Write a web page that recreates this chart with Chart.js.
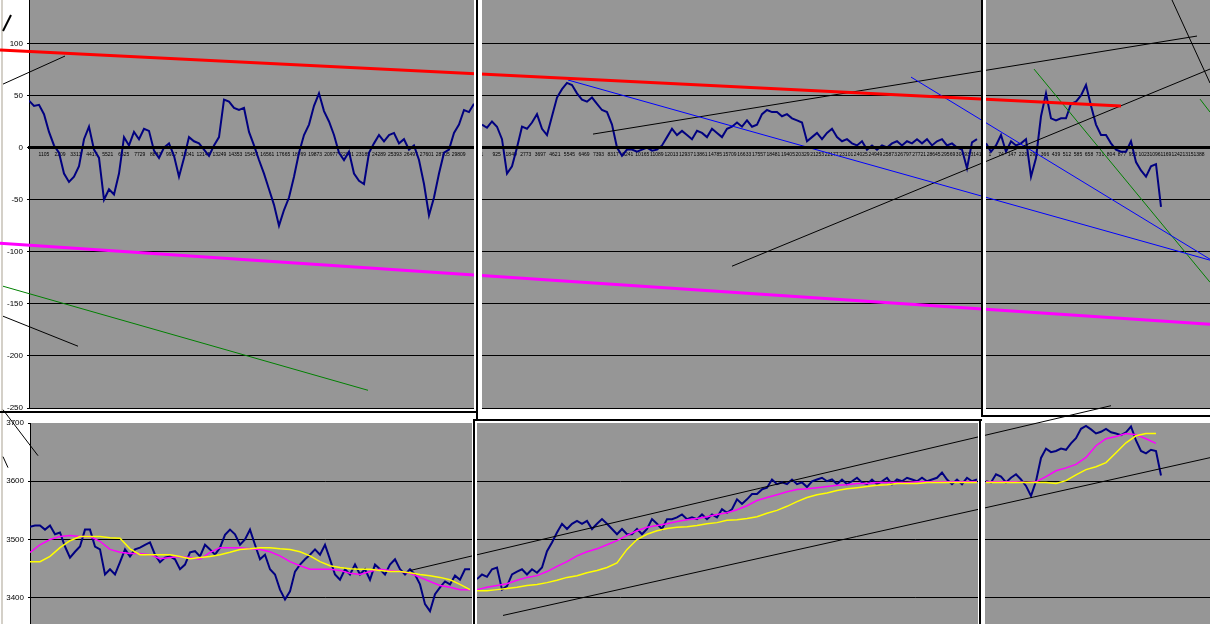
<!DOCTYPE html>
<html lang="en">
<head>
<meta charset="UTF-8">
<title>Oscillator and price windows</title>
<script src="https://cdn.jsdelivr.net/npm/chart.js"></script>
<style>
  body { margin: 0; background: #fff; width: 1210px; height: 624px; overflow: hidden; position: relative; }
  .gray { position: absolute; background: #969696; }
  .white { position: absolute; background: #fff; }
  .ink { position: absolute; background: #000; }
  canvas { position: absolute; left: 0; }
</style>
</head>
<body>
<div class="white" style="left:1px;top:0;width:2px;height:624px;background:#d4d0c8"></div>

<div class="gray" style="left:29px;top:0;width:445px;height:408px"></div>
<div class="gray" style="left:482px;top:0;width:499px;height:409px"></div>
<div class="gray" style="left:986px;top:0;width:224px;height:409px"></div>
<div class="gray" style="left:30px;top:423px;width:442px;height:201px"></div>
<div class="gray" style="left:477px;top:423px;width:501px;height:201px"></div>
<div class="gray" style="left:985px;top:423px;width:225px;height:201px"></div>

<canvas id="topChart" width="1210" height="412" style="top:0"></canvas>
<canvas id="bottomChart" width="1210" height="224" style="top:400px"></canvas>

<div class="white" style="left:474px;top:0;width:8px;height:419px"></div>
<div class="white" style="left:981px;top:0;width:5px;height:416px"></div>
<div class="white" style="left:472px;top:419px;width:5px;height:205px"></div>
<div class="white" style="left:978px;top:419px;width:7px;height:205px"></div>

<div class="ink" style="left:0;top:411px;width:478px;height:2px"></div>
<div class="ink" style="left:476px;top:0;width:2px;height:420px"></div>
<div class="ink" style="left:473px;top:419px;width:509px;height:2px"></div>
<div class="ink" style="left:473px;top:419px;width:2px;height:205px"></div>
<div class="ink" style="left:981px;top:0;width:2px;height:417px"></div>
<div class="ink" style="left:981px;top:415px;width:229px;height:2px"></div>
<div class="ink" style="left:979px;top:419px;width:2px;height:205px"></div>

<script>
// ---- oscillator (top row), one array per window, sampled every 5 steps
const topLeftOsc = [45,40,41,32,15,2,-5,-25,-33,-28,
  -18,8,20,-2,-10,-50,-40,-45,-25,10,
  2,15,8,18,16,-3,-10,0,4,-8,
  -28,-10,10,6,4,-2,-8,2,10,46,
  44,38,36,38,15,2,-12,-25,-40,-55,
  -75,-60,-48,-28,-5,12,22,40,52,35,
  25,12,-5,-12,-4,-25,-32,-35,-5,4,
  12,6,12,14,4,8,-2,2,-12,-35,
  -65,-48,-25,-5,-2,14,22,36,34,42];
const topMidOsc = [22,19,25,20,8,-25,-18,0,20,18,
  24,32,18,12,30,48,56,62,60,52,
  46,44,48,42,36,34,22,0,-8,-2,
  -2,-4,-2,0,-3,-2,2,10,18,12,
  16,12,8,16,14,10,18,14,10,18,
  20,24,20,26,20,22,32,36,34,34,
  30,32,28,26,24,6,10,14,8,14,
  18,10,6,8,4,2,6,-2,2,-2,
  2,0,4,6,2,6,4,8,4,8,
  2,6,8,2,4,0,-2,-20,5,8];
const topRightOsc = [4,-4,2,12,-4,6,2,4,8,-28,
  -10,30,52,28,26,28,28,42,44,50,
  60,40,22,12,12,4,-2,-4,-4,6,
  -14,-22,-28,-18,-16,-57];

// ---- price (bottom row)
const botLeftPrice = [3522,3524,3524,3517,3524,3509,3512,3488,3469,3479,
  3488,3517,3517,3488,3483,3440,3449,3440,3461,3483,
  3471,3483,3486,3491,3495,3474,3461,3469,3471,3466,
  3449,3457,3478,3480,3471,3491,3483,3474,3486,3508,
  3517,3509,3491,3500,3517,3491,3466,3474,3449,3440,
  3414,3397,3411,3445,3457,3466,3474,3483,3474,3491,
  3466,3440,3431,3449,3440,3457,3440,3449,3431,3457,
  3449,3440,3457,3466,3449,3440,3449,3440,3423,3389,
  3377,3406,3418,3428,3423,3438,3431,3449,3449];
const botMidPrice = [3432,3440,3436,3449,3452,3414,3420,3440,3445,3449,
  3440,3449,3443,3452,3480,3495,3512,3527,3518,3527,
  3532,3527,3532,3518,3527,3535,3527,3518,3509,3518,
  3509,3509,3518,3509,3518,3535,3527,3518,3535,3535,
  3538,3543,3535,3538,3535,3543,3535,3543,3538,3552,
  3546,3552,3569,3561,3569,3578,3578,3586,3589,3603,
  3595,3598,3595,3603,3595,3598,3590,3600,3603,3606,
  3600,3603,3595,3603,3595,3600,3606,3598,3595,3603,
  3595,3600,3606,3595,3603,3600,3606,3603,3600,3606,
  3600,3603,3606,3615,3603,3595,3603,3595,3606,3600,3603];
const botRightPrice = [3600,3598,3612,3608,3598,3606,3612,3603,3592,3575,
  3600,3640,3656,3650,3652,3656,3654,3665,3674,3690,
  3695,3689,3682,3685,3690,3684,3682,3679,3684,3694,
  3670,3652,3648,3654,3652,3610];

// ---- moving averages, sampled every 10 steps
const botLeftMagenta = [3478,3491,3500,3505,3507,3505,3505,3497,3483,3478,
  3476,3476,3474,3467,3469,3471,3469,3466,3478,3486,
  3486,3486,3484,3483,3479,3472,3462,3455,3449,3449,
  3449,3447,3442,3440,3445,3449,3447,3445,3442,3435,
  3428,3421,3418,3414,3414];
const botLeftYellow = [3462,3462,3471,3486,3498,3505,3505,3505,3503,3502,
  3484,3474,3474,3474,3474,3471,3467,3469,3471,3474,
  3478,3483,3484,3486,3486,3484,3483,3479,3472,3462,
  3455,3452,3450,3449,3449,3447,3445,3445,3443,3440,
  3438,3435,3431,3423,3414];
const botMidMagenta = [3414,3418,3421,3424,3430,3435,3438,3445,3454,3462,
  3472,3479,3484,3491,3498,3507,3515,3521,3524,3527,
  3531,3534,3536,3539,3543,3546,3551,3558,3567,3572,
  3577,3582,3586,3587,3589,3591,3593,3594,3596,3596,
  3598,3598,3598,3598,3599,3599,3599,3599,3599,3599,3599];
const botMidYellow = [3412,3412,3414,3416,3418,3421,3423,3426,3430,3435,
  3438,3443,3447,3452,3460,3483,3500,3509,3515,3519,
  3521,3522,3524,3527,3529,3533,3534,3536,3539,3545,
  3550,3557,3565,3572,3577,3580,3584,3587,3589,3591,
  3593,3594,3596,3596,3596,3598,3598,3598,3598,3598,3598];
const botRightMagenta = [3599,3599,3599,3599,3598,3599,3608,3618,3623,3629,
  3641,3661,3673,3677,3682,3680,3673,3665];
const botRightYellow = [3598,3598,3598,3598,3598,3598,3598,3596,3601,3611,
  3620,3625,3632,3649,3666,3678,3682,3682];

// ---- hand drawn trend lines: [step, value] end points
const redLine = [[-29, 93.6], [1092, 39.8]];
const magentaLine = [[-29, -91.8], [1181, -169.6]];
const greenLeft = [[-26, -133.1], [339, -233.0]];
const blackLeftLow = [[-26, -161.9], [49, -190.7]];
const blackLeftTop = [[-26, 60.9], [36, 87.8]];
const blackStub = [[-26, 111.8], [-18, 127.2]];
const blueA = [[539, 64.8], [1181, -108.1]];
const blueB = [[882, 67.6], [1181, -107.2]];
const blackC = [[564, 12.9], [1168, 107.0]];
const blackD = [[703, -113.9], [1181, 75.3]];
const blackE = [[1143, 141.6], [1181, 61.9]];
const greenF = [[1005, 75.3], [1181, -129.3]];
const greenG = [[1171, 46.5], [1181, 34.0]];
const channelUpper = [[381, 3446.8], [1082, 3729.7]];
const channelLower = [[474, 3369.7], [1181, 3640.5]];
const priceStub1 = [[-26, 3722.8], [9, 3643.9]];
const priceStub2 = [[-26, 3642.2], [-21, 3623.4]];

// ---- axis labels
const topYTicks = [100, 50, 0, -50, -100, -150, -200, -250];
const botYTicks = [3700, 3600, 3500, 3400];
const topLeftTickText = ['1105','2209','3313','4417','5521','6625','7729','8833','9937','11041',
  '12145','13249','14353','15457','16561','17665','18769','19873','20977','22081',
  '23185','24289','25393','26497','27601','28705','29809'];
const topMidTickText = ['1','925','1849','2773','3697','4621','5545','6469','7393','8317',
  '9241','10165','11089','12013','12937','13861','14785','15709','16633','17557',
  '18481','19405','20329','21253','22177','23101','24025','24949','25873','26797',
  '27721','28645','29569','30493','31417'];
const topRightTickText = ['1','74','147','220','293','366','439','512','585','658',
  '731','804','877','950','1023','1096','1169','1242','1315','1388'];

// window offsets on the shared step axis
const TL0 = 0, TM0 = 453, TR0 = 957;
const BL0 = 1, BM0 = 448, BR0 = 957;

function series(values, x0, step) {
  return values.map((v, i) => ({ x: x0 + i * step, y: v }));
}
function line(pairs, color, width) {
  return { data: pairs.map(p => ({ x: p[0], y: p[1] })), borderColor: color, borderWidth: width,
    pointRadius: 0, tension: 0, clip: false };
}
function trace(data, color, width) {
  return { data: data, borderColor: color, borderWidth: width, pointRadius: 0, tension: 0 };
}

const tickPos = [], tickText = [];
topLeftTickText.forEach((t, k) => { tickPos.push(TL0 + 15 + k * 15.95); tickText.push(t); });
topMidTickText.forEach((t, k) => { tickPos.push(TM0 + k * 14.57); tickText.push(t); });
topRightTickText.forEach((t, k) => { tickPos.push(TR0 + 4 + k * 11); tickText.push(t); });

const NAVY = '#000080';

new Chart(document.getElementById('topChart'), {
  type: 'line',
  data: {
    datasets: [
      line(redLine, '#ff0000', 3),
      line(magentaLine, '#ff00ff', 3),
      line(greenLeft, '#008000', 1),
      line(blackLeftLow, '#000', 1),
      line(blackLeftTop, '#000', 1),
      line(blackStub, '#000', 2),
      line(blueA, '#0000ff', 1),
      line(blueB, '#0000ff', 1),
      line(blackC, '#000', 1),
      line(blackD, '#000', 1),
      line(blackE, '#000', 1),
      line(greenF, '#008000', 1),
      line(greenG, '#008000', 1),
      trace(series(topLeftOsc, TL0, 5), NAVY, 2),
      trace(series(topMidOsc, TM0, 5), NAVY, 2),
      trace(series(topRightOsc, TR0, 5), NAVY, 2)
    ]
  },
  options: {
    animation: false,
    responsive: false,
    devicePixelRatio: 1,
    events: [],
    layout: { padding: { left: 0, right: 0, top: 0, bottom: 4 } },
    plugins: { legend: { display: false }, tooltip: { enabled: false } },
    scales: {
      x: {
        type: 'linear', min: 0, max: 1181,
        position: { y: 0 },
        grid: { display: false, drawTicks: false },
        border: { display: true, color: '#000', width: 3, z: 1 },
        ticks: {
          autoSkip: false, maxRotation: 0, minRotation: 0, padding: 4, color: '#000',
          font: { size: 5, family: 'Arial' },
          callback: (v, i) => tickText[i]
        },
        afterBuildTicks: s => { s.ticks = tickPos.map(v => ({ value: v })); },
        afterFit: s => { s.paddingLeft = 0; s.paddingRight = 0; }
      },
      y: {
        min: -250, max: 141.6,
        grid: { color: '#000', lineWidth: 1, tickLength: 2 },
        border: { color: '#000', width: 1 },
        ticks: { color: '#000', padding: 4, font: { size: 8, family: 'Arial' }, callback: v => String(v) },
        afterBuildTicks: s => { s.ticks = topYTicks.map(v => ({ value: v })); },
        afterFit: s => { s.width = 29; s.paddingTop = 0; s.paddingBottom = 0; }
      }
    }
  }
});

new Chart(document.getElementById('bottomChart'), {
  type: 'line',
  data: {
    datasets: [
      line(channelUpper, '#000', 1),
      line(channelLower, '#000', 1),
      line(priceStub1, '#000', 1),
      line(priceStub2, '#000', 1),
      trace(series(botLeftYellow, BL0, 10), '#ffff00', 1.5),
      trace(series(botMidYellow, BM0, 10), '#ffff00', 1.5),
      trace(series(botRightYellow, BR0, 10), '#ffff00', 1.5),
      trace(series(botLeftMagenta, BL0, 10), '#ff00ff', 1.5),
      trace(series(botMidMagenta, BM0, 10), '#ff00ff', 1.5),
      trace(series(botRightMagenta, BR0, 10), '#ff00ff', 1.5),
      trace(series(botLeftPrice, BL0, 5), NAVY, 2),
      trace(series(botMidPrice, BM0, 5), NAVY, 2),
      trace(series(botRightPrice, BR0, 5), NAVY, 2)
    ]
  },
  options: {
    animation: false,
    responsive: false,
    devicePixelRatio: 1,
    events: [],
    layout: { padding: { left: 0, right: 0, top: 23, bottom: 0 } },
    plugins: { legend: { display: false }, tooltip: { enabled: false } },
    scales: {
      x: { type: 'linear', min: 1, max: 1181, display: false },
      y: {
        min: 3355, max: 3700,
        grid: {
          color: c => (c.tick && c.tick.value === 3700) ? 'rgba(0,0,0,0)' : '#000',
          tickColor: '#000', lineWidth: 1, tickLength: 2
        },
        border: { color: '#000', width: 1 },
        ticks: { color: '#000', padding: 4, font: { size: 8, family: 'Arial' }, callback: v => String(v) },
        afterBuildTicks: s => { s.ticks = botYTicks.map(v => ({ value: v })); },
        afterFit: s => { s.width = 30; s.paddingTop = 0; s.paddingBottom = 0; }
      }
    }
  }
});
</script>
</body>
</html>
